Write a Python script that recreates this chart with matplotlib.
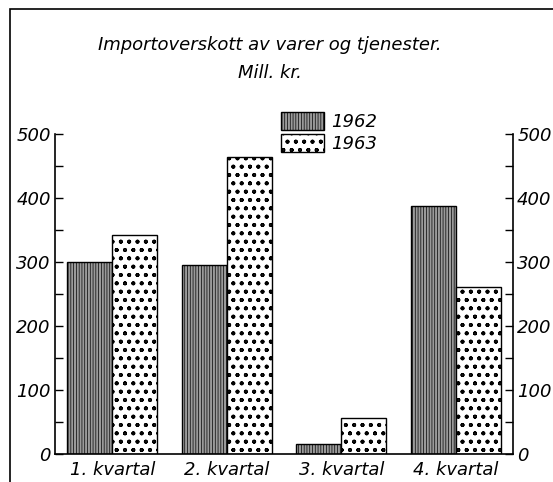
#!/usr/bin/env python3

import matplotlib
matplotlib.use('Agg')
import matplotlib.pyplot as plt
import numpy as np
from matplotlib.patches import Rectangle, Patch

quarters = ['1. kvartal', '2. kvartal', '3. kvartal', '4. kvartal']
val_1962 = [300, 295, 16, 388]
val_1963 = [342, 464, 56, 261]
yticks = [0, 100, 200, 300, 400, 500]

plt.rcParams['font.family'] = 'DejaVu Sans'
plt.rcParams['font.style'] = 'italic'
plt.rcParams['hatch.linewidth'] = 0.5

fig = plt.figure(figsize=(5.53, 4.82), dpi=100)
ax = fig.add_axes([55 / 553, 1 - 454 / 482, (513 - 55) / 553, (454 - 134) / 482])

c62 = '#9a9a9a'
h62 = '||||||'
h63 = 'oo..'

x = np.arange(len(quarters))
w = 0.395
ax.bar(x - w / 2, val_1962, w, color=c62, edgecolor='black', linewidth=1.0,
       hatch=h62, label='1962')
ax.bar(x + w / 2, val_1963, w, color='white', edgecolor='black', linewidth=1.0,
       hatch=h63, label='1963')

ax.set_xlim(-0.5, 3.5)
ax.set_ylim(0, 500)
ax.set_xticks(x)
ax.set_xticklabels(quarters, fontsize=13)
ax.set_yticks(yticks)
ax.set_yticks(np.arange(0, 501, 50), minor=True)
ax.tick_params(axis='y', which='both', direction='in', length=6, labelsize=13,
               left=True, right=True, labelleft=True, labelright=True, width=1.0, pad=3)
ax.tick_params(axis='x', length=0, labelsize=13, pad=5)
ax.spines['top'].set_visible(False)
for s in ['left', 'right', 'bottom']:
    ax.spines[s].set_linewidth(1.2)

fig.text(0.488, 1 - 45 / 482, 'Importoverskott av varer og tjenester.', ha='center', va='center',
         fontsize=13)
fig.text(0.488, 1 - 73 / 482, 'Mill. kr.', ha='center', va='center', fontsize=13)

handles = [Patch(facecolor=c62, edgecolor='black', hatch=h62, label='1962'),
           Patch(facecolor='white', edgecolor='black', hatch=h63, label='1963')]
fig.legend(handles=handles, loc='upper left', bbox_to_anchor=(268 / 553, 1 - 99 / 482),
           frameon=False, fontsize=13, handlelength=2.4, handleheight=1.2,
           handletextpad=0.4, labelspacing=0.15, borderpad=0.2)

fig.patches.append(Rectangle((10 / 553, -0.1), 1.2, 1 - 9 / 482 + 0.1, transform=fig.transFigure,
                             fill=False, edgecolor='black', linewidth=1.2))

plt.savefig('out.png', dpi=100)
